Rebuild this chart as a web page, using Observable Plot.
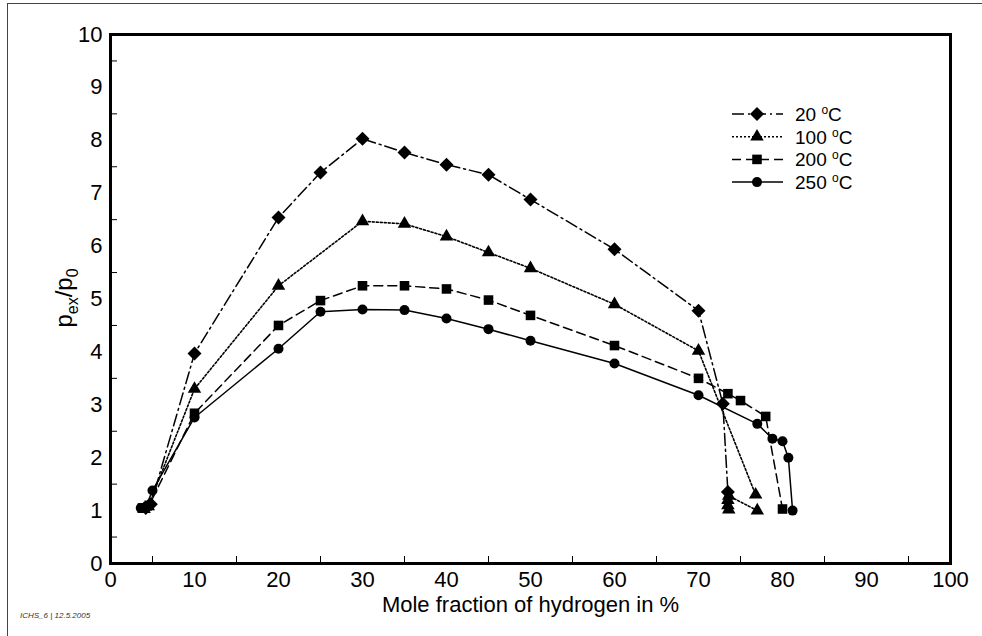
<!DOCTYPE html>
<html><head><meta charset="utf-8">
<script src="https://cdn.jsdelivr.net/npm/d3@7"></script>
<script src="https://cdn.jsdelivr.net/npm/@observablehq/plot@0.6"></script>
<style>
body{margin:0;background:#fff;}
#wrap{position:relative;width:982px;height:636px;overflow:hidden;font-family:"Liberation Sans",Arial,sans-serif;}
#topline{position:absolute;left:7px;top:3px;width:975px;height:0;border-top:1.5px solid #444;}
#leftline{position:absolute;left:7px;top:3px;width:0;height:633px;border-left:1.5px solid #444;}
#caption{position:absolute;left:20px;top:611px;font-size:8px;font-style:italic;color:#333;}
#chart{position:absolute;left:0;top:0;}
</style></head>
<body>
<div id="wrap">
<div id="chart"></div>
<div id="topline"></div>
<div id="leftline"></div>
<div id="caption">ICHS_6 | 12.5.2005</div>
</div>
<script>
const seriesNames = ["20", "100", "200", "250"];
const x20  = [4.2, 4.8, 10, 20, 25, 30, 35, 40, 45, 50, 60, 70, 72.9, 73.5];
const y20  = [1.05, 1.12, 3.97, 6.54, 7.39, 8.03, 7.77, 7.54, 7.35, 6.88, 5.94, 4.78, 3.02, 1.35];
// 100 °C: main branch and the separate rich-limit branch
const x100 = [4.0, 4.5, 10, 20, 30, 35, 40, 45, 50, 60, 70, 76.8];
const y100 = [1.03, 1.08, 3.3, 5.25, 6.47, 6.42, 6.18, 5.88, 5.58, 4.9, 4.02, 1.3];
const x100b = [73.6, 73.5, 73.5, 73.6, 77];
const y100b = [1.02, 1.1, 1.2, 1.28, 1.0];
const x200 = [3.8, 4.6, 10, 20, 25, 30, 35, 40, 45, 50, 60, 70, 73.5, 75, 78, 80];
const y200 = [1.05, 1.1, 2.84, 4.5, 4.97, 5.25, 5.25, 5.19, 4.98, 4.69, 4.12, 3.5, 3.21, 3.08, 2.78, 1.03];
const x250 = [3.6, 4.2, 5, 10, 20, 25, 30, 35, 40, 45, 50, 60, 70, 77, 78.8, 80, 80.7, 81.2];
const y250 = [1.05, 1.07, 1.38, 2.76, 4.06, 4.76, 4.8, 4.79, 4.63, 4.43, 4.21, 3.78, 3.18, 2.64, 2.36, 2.31, 2.0, 1.0];
const xTickLabels = [0, 10, 20, 30, 40, 50, 60, 70, 80, 90, 100];
const yTickLabels = [0, 1, 2, 3, 4, 5, 6, 7, 8, 9, 10];
const xMinor = [5, 15, 25, 35, 45, 55, 65, 75, 85, 95];
const yMinor = [0.5, 1.5, 2.5, 3.5, 4.5, 5.5, 6.5, 7.5, 8.5, 9.5];

const zip = (xs, ys, seg = 0) => xs.map((x, i) => ({x, y: ys[i], seg}));
const series = [
  {name: seriesNames[0], data: zip(x20, y20), dash: "12,4,2,4", symbol: "diamond2", r: 6.3, sw: 1.5},
  {name: seriesNames[1], data: [...zip(x100, y100, 0), ...zip(x100b, y100b, 1)], dash: "2,2", symbol: "triangle", r: 5, sw: 1.6},
  {name: seriesNames[2], data: zip(x200, y200), dash: "9,5", symbol: "square", r: 5.4, sw: 1.5},
  {name: seriesNames[3], data: zip(x250, y250), dash: null, symbol: "circle", r: 5, sw: 1.5}
];

const W = 982, H = 636, ML = 110, MR = 32, MT = 34, MB = 73;
const pw = W - ML - MR, ph = H - MT - MB;

const marks = [];
series.forEach(s => {
  marks.push(Plot.line(s.data, {x: "x", y: "y", z: "seg", stroke: "#000", strokeWidth: s.sw, strokeDasharray: s.dash}));
});
series.forEach(s => {
  marks.push(Plot.dot(s.data, {x: "x", y: "y", symbol: () => s.symbol, fill: "#000", stroke: "none", r: s.r}));
});

const plot = Plot.plot({
  width: W, height: H,
  marginLeft: ML, marginRight: MR, marginTop: MT, marginBottom: MB,
  style: {fontFamily: "Liberation Sans, Arial, sans-serif", fontSize: "22px", color: "#000", background: "#fff"},
  x: {domain: [0, 100]},
  y: {domain: [0, 10]},
  symbol: {type: "identity"},
  marks: [
    Plot.axisX(xTickLabels, {tickSize: 0, tickPadding: 8, fontSize: 22, tickFormat: d => String(d), label: "Mole fraction of hydrogen in %", labelAnchor: "center", labelArrow: "none", labelOffset: 48}),
    Plot.axisY(yTickLabels, {tickSize: 0, tickPadding: 8, fontSize: 22, tickFormat: d => String(d), label: null}),
    Plot.tickX(xMinor, {x: d => d, insetTop: ph - 7, stroke: "#000", strokeWidth: 1}),
    Plot.tickY(yMinor, {y: d => d, insetRight: pw - 7, stroke: "#000", strokeWidth: 1}),
    ...marks,
    Plot.frame({stroke: "#000", strokeWidth: 3})
  ]
});
document.getElementById("chart").appendChild(plot);

const svg = d3.select(plot);
// y label with subscripts
const yl = svg.append("text")
  .attr("transform", "translate(72,298) rotate(-90)")
  .attr("text-anchor", "middle")
  .attr("font-size", 24)
  .attr("fill", "#000");
yl.append("tspan").text("p");
yl.append("tspan").attr("font-size", 16).attr("dy", 6).text("ex");
yl.append("tspan").attr("dy", -6).text("/p");
yl.append("tspan").attr("font-size", 16).attr("dy", 6).text("0");

// legend
const lg = svg.append("g").attr("text-anchor", "start");
series.forEach((s, i) => {
  const y = 114 + i * 22.7;
  lg.append("line").attr("x1", 732).attr("x2", 783).attr("y1", y).attr("y2", y)
    .attr("stroke", "#000").attr("stroke-width", s.sw)
    .attr("stroke-dasharray", s.dash);
  const sym = {diamond2: d3.symbolDiamond2, triangle: d3.symbolTriangle, square: d3.symbolSquare, circle: d3.symbolCircle}[s.symbol];
  lg.append("path").attr("d", d3.symbol(sym, Math.PI * s.r * s.r)())
    .attr("transform", `translate(757,${y})`).attr("fill", "#000");
  const t = lg.append("text").attr("x", 795).attr("y", y + 7).attr("font-size", 19)
    .attr("text-anchor", "start").attr("fill", "#000");
  t.append("tspan").text(s.name + " ");
  t.append("tspan").attr("font-size", 12).attr("dy", -7).text("o");
  t.append("tspan").attr("dy", 7).text("C");
});
</script>
</body></html>
